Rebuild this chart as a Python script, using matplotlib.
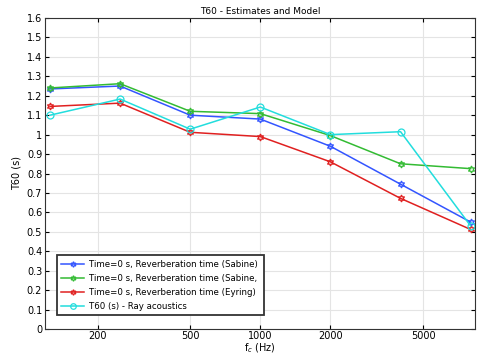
import numpy as np
import matplotlib.pyplot as plt
from matplotlib.ticker import FixedLocator, FuncFormatter, NullLocator

# octave band centre frequencies
freq = [125, 250, 500, 1000, 2000, 4000, 8000]

t60_sabine = [1.235, 1.25, 1.10, 1.08, 0.94, 0.745, 0.55]
t60_sabine2 = [1.24, 1.262, 1.12, 1.108, 0.995, 0.85, 0.825]
t60_eyring = [1.145, 1.162, 1.012, 0.99, 0.86, 0.672, 0.512]
t60_ray = [1.10, 1.183, 1.028, 1.142, 1.0, 1.015, 0.53]

labels = ["Time=0 s, Reverberation time (Sabine)",
          "Time=0 s, Reverberation time (Sabine, ",
          "Time=0 s, Reverberation time (Eyring)",
          "T60 (s) - Ray acoustics"]
x_ticks = [200, 500, 1000, 2000, 5000]

plt.rcParams['font.family'] = 'DejaVu Sans'
plt.rcParams['font.size'] = 7

fig = plt.figure(figsize=(4.82, 3.55), dpi=100)
ax = fig.add_axes([45/482, 26/355, 430/482, 311/355])

series = [t60_sabine, t60_sabine2, t60_eyring, t60_ray]
colors = ['#3355ff', '#33bb33', '#e02020', '#22dddd']
markers = [(6, 1, 0), (6, 1, 0), (6, 1, 0), 'o']
for y, c, m, lab in zip(series, colors, markers, labels):
    ax.plot(freq, y, color=c, lw=1.1, marker=m, ms=5, mfc='none',
            mec=c, mew=0.9, label=lab)

ax.set_xscale('log')
ax.set_xlim(119, 8350)
ax.set_ylim(0, 1.6)
ax.xaxis.set_major_locator(FixedLocator(x_ticks))
ax.xaxis.set_major_formatter(FuncFormatter(lambda v, p: '%d' % v))
ax.xaxis.set_minor_locator(NullLocator())
ax.set_yticks(np.arange(0, 1.61, 0.1))
ax.yaxis.set_major_formatter(FuncFormatter(lambda v, p: ('%.1f' % v).rstrip('0').rstrip('.')))
ax.tick_params(direction='in', top=True, right=True, length=3, width=0.8,
               labelsize=7, pad=2)
ax.tick_params(axis='x', pad=1.5)
ax.grid(True, color='#e4e4e4', lw=0.8)
ax.set_axisbelow(True)
for s in ax.spines.values():
    s.set_color('#333333')

ax.set_title('T60 - Estimates and Model', fontsize=6.5, pad=3)
ax.set_xlabel('f$_c$ (Hz)', fontsize=7, labelpad=0)
ax.set_ylabel('T60 (s)', fontsize=7, labelpad=4)

leg = ax.legend(loc='lower left', bbox_to_anchor=(0.018, 0.03), fontsize=6.2,
                fancybox=False, framealpha=1, handlelength=2.6,
                borderpad=0.5, labelspacing=0.6, handletextpad=0.6,
                markerscale=0.8)
leg.get_frame().set_edgecolor('#333333')
leg.get_frame().set_linewidth(1.3)

fig.savefig('out.png', dpi=100)
